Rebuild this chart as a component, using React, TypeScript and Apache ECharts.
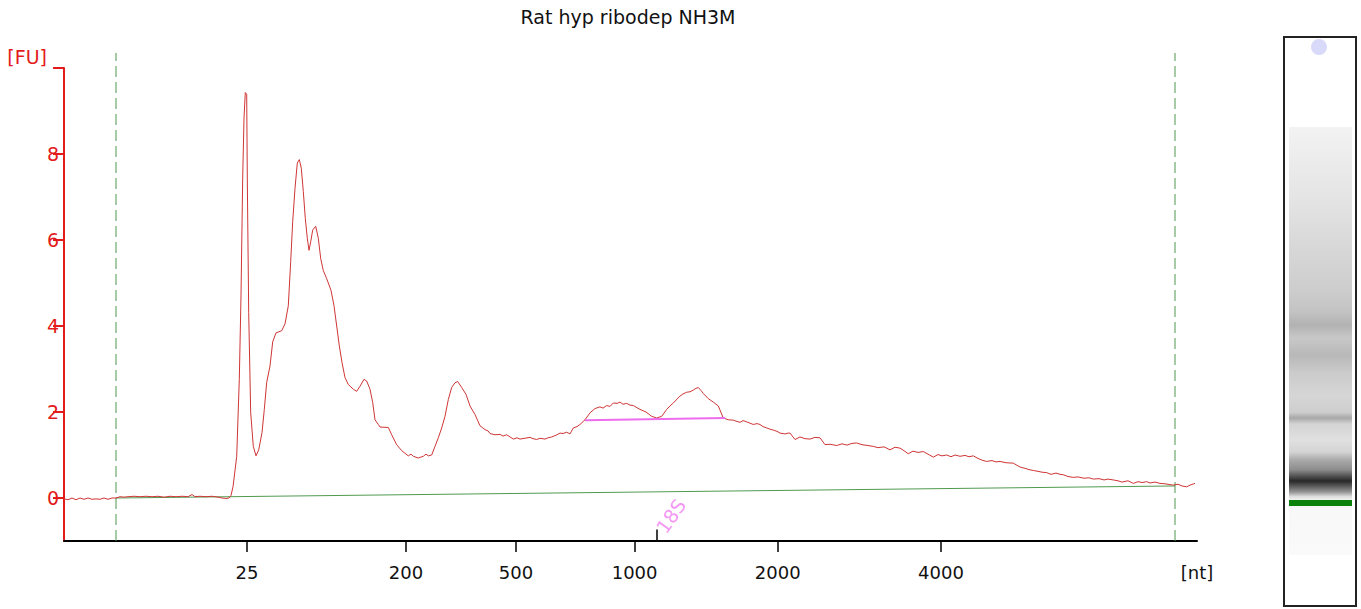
import React, { useEffect, useRef } from "react";
import * as echarts from "echarts";

const chartTitle = "Rat hyp ribodep NH3M";

// migration time (arbitrary units) and fluorescence [FU]
const timeValues = [
  0.0, 0.4, 0.8, 1.2, 1.6, 2.0, 2.4, 2.8, 3.2, 3.6,
  4.0, 4.4, 4.8, 5.2, 5.6, 6.0, 6.4, 7.0, 7.6, 8.2,
  8.8, 9.4, 10.0, 10.6, 11.2, 11.8, 12.4, 12.8, 13.1, 13.6,
  14.2, 14.8, 15.4, 15.8, 16.2, 16.5, 16.7, 16.9, 17.27, 17.53,
  17.7, 17.87, 18.0, 18.13, 18.27, 18.33, 18.47, 18.67, 18.93, 19.2,
  19.47, 19.8, 20.03, 20.27, 20.6, 20.87, 21.2, 21.77, 22.1, 22.43,
  22.67, 22.87, 23.1, 23.33, 23.53, 23.73, 23.93, 24.13, 24.33, 24.5,
  24.67, 24.87, 25.17, 25.43, 25.67, 25.93, 26.27, 26.7, 27.0, 27.27,
  27.53, 27.8, 28.1, 28.43, 28.93, 29.27, 29.6, 30.0, 30.27, 30.6,
  30.87, 31.1, 31.43, 31.6, 32.43, 32.77, 33.27, 33.77, 34.43, 34.7,
  34.93, 35.43, 35.93, 36.2, 36.43, 36.77, 37.1, 37.43, 37.77, 38.1,
  38.43, 38.77, 39.1, 39.37, 39.77, 40.2, 40.6, 41.1, 41.6, 42.1,
  42.4, 42.6, 43.1, 43.6, 43.9, 44.27, 44.93, 45.3, 45.6, 46.1,
  46.6, 46.9, 47.27, 47.6, 48.1, 48.4, 48.77, 49.2, 49.6, 49.9,
  50.27, 50.6, 50.93, 51.3, 51.6, 52.1, 52.6, 53.1, 53.6, 53.9,
  54.27, 54.6, 54.93, 55.3, 55.6, 55.9, 56.27, 56.6, 56.93, 57.3,
  57.6, 58.2, 58.77, 59.27, 59.77, 60.27, 60.6, 60.93, 61.3, 61.6,
  61.9, 62.27, 62.6, 62.93, 63.2, 63.43, 63.7, 63.93, 64.43, 64.93,
  65.43, 65.93, 66.43, 66.93, 67.3, 67.6, 67.9, 68.27, 68.6, 68.93,
  69.3, 69.6, 69.9, 70.27, 70.6, 70.93, 71.3, 71.6, 72.1, 72.43,
  72.6, 73.1, 73.6, 74.1, 74.6, 75.1, 75.6, 76.1, 76.6, 77.27,
  77.8, 78.3, 78.8, 79.27, 79.8, 80.4, 80.93, 81.4, 82.0, 82.6,
  83.1, 83.6, 84.0, 84.43, 84.9, 85.4, 85.93, 86.4, 86.93, 87.4,
  87.8, 88.27, 88.7, 89.1, 89.6, 90.1, 90.5, 90.93, 91.4, 91.8,
  92.27, 92.8, 93.2, 93.6, 94.2, 94.93, 95.3, 95.6, 96.1, 96.5,
  96.93, 97.4, 97.8, 98.27, 98.7, 99.2, 99.6, 99.93, 100.4, 100.93,
  101.4, 102.0, 102.5, 102.93, 103.5, 104.0, 104.4, 104.93, 105.4, 105.8,
  106.4, 106.93, 107.4, 107.8, 108.27, 108.6, 109.1, 109.6, 110.1, 110.6,
  110.93, 111.4, 111.8, 112.27, 112.6, 113.1,
];

const fuValues = [
  -0.02, -0.04, 0.0, -0.04, 0.0, -0.03, 0.0, -0.03, -0.02, -0.03,
  0.0, -0.03, 0.0, 0.0, 0.03, 0.02, 0.03, 0.04, 0.03, 0.04,
  0.03, 0.04, 0.02, 0.04, 0.03, 0.04, 0.03, 0.08, 0.03, 0.04,
  0.03, 0.04, 0.02, 0.0, -0.01, 0.0, 0.06, 0.26, 0.96, 2.76,
  4.7, 7.44, 8.84, 9.43, 9.39, 7.44, 4.32, 1.98, 1.2, 0.98,
  1.12, 1.52, 2.06, 2.69, 3.07, 3.63, 3.84, 3.89, 4.05, 4.47,
  5.5, 6.43, 7.2, 7.79, 7.87, 7.67, 7.13, 6.5, 6.04, 5.76,
  5.96, 6.23, 6.32, 6.04, 5.57, 5.29, 5.1, 4.83, 4.47, 4.0,
  3.54, 3.15, 2.8, 2.64, 2.53, 2.48, 2.6, 2.76, 2.72, 2.53,
  2.22, 1.82, 1.71, 1.65, 1.64, 1.47, 1.24, 1.1, 0.98, 1.02,
  0.97, 0.93, 0.97, 1.02, 0.98, 1.0, 1.2, 1.4, 1.63, 1.9,
  2.29, 2.57, 2.68, 2.71, 2.57, 2.41, 2.14, 1.94, 1.68, 1.59,
  1.56, 1.5, 1.47, 1.48, 1.44, 1.47, 1.37, 1.4, 1.37, 1.39,
  1.41, 1.38, 1.36, 1.39, 1.37, 1.4, 1.42, 1.46, 1.51, 1.5,
  1.53, 1.49, 1.63, 1.66, 1.71, 1.82, 1.98, 2.08, 2.12, 2.09,
  2.15, 2.13, 2.21, 2.2, 2.23, 2.18, 2.2, 2.16, 2.15, 2.1,
  2.06, 2.0, 1.9, 1.86, 1.9, 2.06, 2.14, 2.21, 2.3, 2.37,
  2.42, 2.46, 2.47, 2.51, 2.55, 2.57, 2.5, 2.43, 2.31, 2.23,
  2.14, 1.86, 1.82, 1.81, 1.78, 1.76, 1.8, 1.77, 1.74, 1.71,
  1.73, 1.71, 1.66, 1.63, 1.6, 1.58, 1.55, 1.51, 1.49, 1.51,
  1.51, 1.36, 1.42, 1.38, 1.37, 1.41, 1.4, 1.24, 1.25, 1.22,
  1.26, 1.23, 1.27, 1.28, 1.24, 1.22, 1.2, 1.17, 1.19, 1.12,
  1.18, 1.16, 1.1, 1.03, 1.09, 1.06, 1.08, 1.02, 0.95, 1.01,
  0.98, 1.0, 0.96, 1.0, 0.97, 0.99, 0.96, 0.98, 0.92, 0.88,
  0.85, 0.87, 0.84, 0.85, 0.82, 0.81, 0.76, 0.72, 0.69, 0.66,
  0.64, 0.62, 0.6, 0.59, 0.55, 0.58, 0.55, 0.54, 0.5, 0.48,
  0.49, 0.46, 0.47, 0.44, 0.45, 0.42, 0.44, 0.42, 0.4, 0.37,
  0.4, 0.34, 0.38, 0.36, 0.38, 0.35, 0.37, 0.34, 0.33, 0.31,
  0.3, 0.32, 0.28, 0.26, 0.3, 0.34,
];

const timeMax = 113.3;
const ntLabels = ["25", "200", "500", "1000", "2000", "4000"];
const ntTimes = [18.3, 34.2, 45.2, 57.06, 71.37, 87.7];
const ntAxisName = "[nt]";
const fuTicks = [0, 2, 4, 6, 8, 10];
const fuMin = -1;
const fuMax = 10;
const fuAxisName = "[FU]";

const markerTimes = [5.2, 111.1];
const markerTop = 10.35;
const baselineTimes = [5.2, 111.1];
const baselineValues = [0.0, 0.28];
const regionTimes = [52.1, 66.1];
const regionValues = [1.81, 1.86];
const rnaLabel = "18S";
const rnaTime = 59.3;
const rnaTickTop = -0.73;

// virtual gel lane: relative position (top -> bottom) and grey level
const gelPos = [0, 0.054, 0.171, 0.287, 0.381, 0.428, 0.463, 0.493, 0.533, 0.572,
  0.626, 0.666, 0.68, 0.694, 0.731, 0.759, 0.778, 0.801, 0.815, 0.827,
  0.838, 0.853, 0.864, 0.871, 0.895, 1.0];
const gelGray = [243, 238, 228, 215, 205, 196, 178, 200, 184, 202,
  214, 206, 168, 212, 224, 212, 170, 140, 85, 40,
  85, 150, 225, 240, 248, 250];

const RED = "#e31b1b";
const FONT = "DejaVu Sans, Verdana, sans-serif";

export default function App() {
  const ref = useRef<HTMLDivElement>(null);
  useEffect(() => {
    document.body.style.margin = "0";
    if (!ref.current) return;
    const chart = echarts.init(ref.current, undefined, { renderer: "svg" });
    const curve = timeValues.map((t, i) => [t, fuValues[i]]);
    const gelStops = gelPos.map((p, i) => {
      const g = gelGray[i];
      return { offset: p, color: `rgb(${g},${g},${g})` };
    });
    const labelFor = (v: number) => {
      if (Math.abs(v - timeMax) < 1e-6) return ntAxisName;
      const idx = ntTimes.findIndex((t) => Math.abs(t - v) < 1e-6);
      return idx >= 0 ? ntLabels[idx] : "";
    };
    const option: any = {
      animation: false,
      textStyle: { fontFamily: FONT },
      grid: { left: 64, right: 164, top: 68, bottom: 68, containLabel: false },
      xAxis: {
        type: "value",
        min: 0,
        max: timeMax,
        axisLine: { onZero: false, lineStyle: { color: "#000", width: 2 } },
        axisTick: { customValues: ntTimes, length: 11, lineStyle: { color: "#000", width: 1.5 } },
        axisLabel: {
          customValues: [...ntTimes, timeMax],
          formatter: (v: number) => labelFor(v),
          color: "#111",
          fontSize: 18,
          fontFamily: FONT,
          margin: 22,
          showMaxLabel: true,
          showMinLabel: true,
        },
        splitLine: { show: false },
      },
      yAxis: {
        type: "value",
        min: fuMin,
        max: fuMax,
        name: fuAxisName,
        nameLocation: "end",
        nameGap: 11,
        nameTextStyle: { color: RED, fontSize: 19, fontFamily: FONT, align: "right", verticalAlign: "middle", padding: [0, 17, 0, 0] },
        axisLine: { onZero: false, lineStyle: { color: RED, width: 2 } },
        axisTick: { customValues: fuTicks, length: 11, lineStyle: { color: RED, width: 2 } },
        axisLabel: {
          customValues: fuTicks,
          formatter: (v: number) => (v === fuMax ? "" : String(v)),
          color: RED,
          fontSize: 19,
          fontFamily: FONT,
          margin: 5,
        },
        splitLine: { show: false },
      },
      graphic: [
        {
          type: "text",
          x: 628,
          y: 17,
          style: { text: chartTitle, textAlign: "center", textVerticalAlign: "middle", font: `19px ${FONT}`, fill: "#111" },
        },
        { type: "rect", shape: { x: 1284, y: 37, width: 72, height: 569 }, style: { fill: "#fff", stroke: "#222", lineWidth: 2 } },
        {
          type: "rect",
          shape: { x: 1289, y: 127, width: 63, height: 428 },
          style: { fill: new echarts.graphic.LinearGradient(0, 0, 0, 1, gelStops) },
        },
        { type: "rect", shape: { x: 1289, y: 500, width: 63, height: 6 }, style: { fill: "#0a820a" } },
        { type: "circle", shape: { cx: 1319, cy: 47, r: 8 }, style: { fill: "#d9d9fa" } },
      ],
      series: [
        {
          type: "line",
          data: baselineTimes.map((t, i) => [t, baselineValues[i]]),
          showSymbol: false,
          lineStyle: { color: "#4f9a4f", width: 1 },
          z: 1,
        },
        ...markerTimes.map((t) => ({
          type: "line",
          data: [[t, fuMin], [t, markerTop]],
          showSymbol: false,
          clip: false,
          lineStyle: { color: "#4c964c", width: 1, type: [11, 5] },
          z: 1,
        })),
        {
          type: "line",
          data: curve,
          showSymbol: false,
          lineStyle: { color: "#cf3535", width: 1 },
          z: 3,
        },
        {
          type: "line",
          data: regionTimes.map((t, i) => [t, regionValues[i]]),
          showSymbol: false,
          lineStyle: { color: "#ee6cee", width: 2 },
          z: 4,
        },
        {
          type: "line",
          data: [[rnaTime, fuMin], [rnaTime, rnaTickTop]],
          showSymbol: false,
          clip: false,
          lineStyle: { color: "#000", width: 1.5 },
          z: 4,
        },
        {
          type: "scatter",
          data: [[rnaTime, rnaTickTop]],
          symbolSize: 1,
          itemStyle: { color: "rgba(0,0,0,0)" },
          clip: false,
          label: {
            show: true,
            formatter: rnaLabel,
            position: [4, 2],
            align: "left",
            verticalAlign: "middle",
            rotate: 55,
            color: "#f07cf0",
            fontSize: 19,
            fontFamily: FONT,
          },
          z: 5,
        },
      ],
    };
    chart.setOption(option);
    return () => chart.dispose();
  }, []);
  return <div ref={ref} style={{ width: 1361, height: 609 }} />;
}
